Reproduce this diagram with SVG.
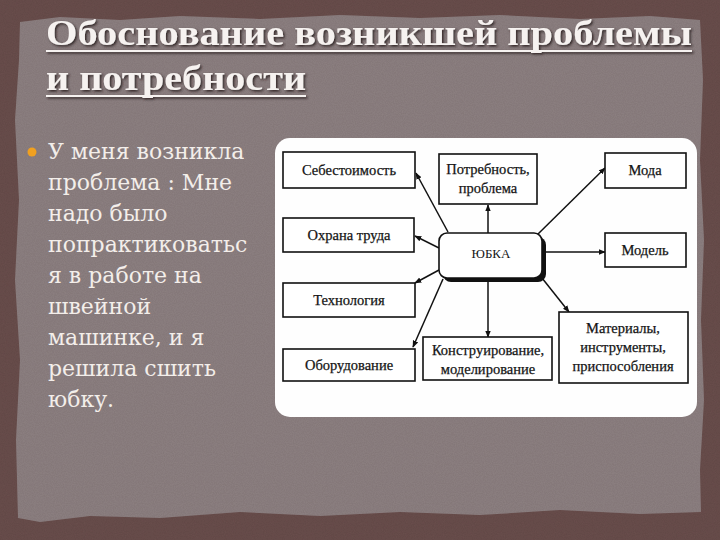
<svg xmlns="http://www.w3.org/2000/svg" width="720" height="540" viewBox="0 0 720 540">
<defs>
<filter id="grain" x="0" y="0" width="100%" height="100%">
<feTurbulence type="fractalNoise" baseFrequency="0.9" numOctaves="2" seed="3" result="n"/>
<feColorMatrix in="n" type="matrix" values="0 0 0 0 0  0 0 0 0 0  0 0 0 0 0  0 0 0 0.18 0" result="a"/>
<feComposite in="a" in2="SourceGraphic" operator="in" result="b"/>
<feMerge><feMergeNode in="SourceGraphic"/><feMergeNode in="b"/></feMerge>
</filter>
<filter id="shadow" x="-5%" y="-20%" width="110%" height="140%">
<feDropShadow dx="1.5" dy="1.5" stdDeviation="1" flood-color="#2a1c1c" flood-opacity="0.9"/>
</filter>
<marker id="ah" viewBox="0 0 10 10" refX="9" refY="5" markerWidth="7" markerHeight="7" orient="auto-start-reverse" markerUnits="userSpaceOnUse">
<path d="M0,1 L10,5 L0,9 Z" fill="#111"/>
</marker>
<style>
.box{fill:#fff;stroke:#111;stroke-width:1.6}
.lbl{font-family:"Liberation Serif","Times New Roman",serif;font-size:14.5px;fill:#151515;text-anchor:middle;stroke:#151515;stroke-width:0.25}
.con{stroke:#111;stroke-width:1.5;fill:none;marker-end:url(#ah)}
.title{font-family:"Liberation Serif","DejaVu Serif",serif;font-weight:bold;font-size:36px;fill:#f6f2f0}
.body{font-family:"DejaVu Serif","Liberation Serif",serif;font-size:22px;fill:#f3eeea}
</style>
</defs>

<rect width="720" height="540" fill="#6b4f4d" filter="url(#grain)"/>
<path d="M20,22 L60,17 L120,20 L180,16 L260,19 L340,15 L420,18 L500,15 L580,19 L650,16 L700,20 L703,80 L700,160 L704,240 L701,320 L704,400 L700,470 L701,512 L640,514 L560,510 L480,515 L400,512 L320,516 L240,512 L160,518 L90,516 L40,522 L18,518 L16,440 L20,360 L15,280 L19,200 L15,120 L19,60 Z" fill="#8e8182" filter="url(#grain)"/>

<g id="title" filter="url(#shadow)">
<text class="title" x="46" y="45" textLength="646" lengthAdjust="spacingAndGlyphs">Обоснование возникшей проблемы</text>
<rect x="46" y="50" width="646" height="2" fill="#f6f2f0"/>
<text class="title" x="46" y="90" textLength="260" lengthAdjust="spacingAndGlyphs">и потребности</text>
<rect x="46" y="95" width="260" height="2" fill="#f6f2f0"/>
</g>

<g id="bullet-text">
<circle cx="32" cy="152" r="4.5" fill="#f0a020"/>
<text class="body" x="48" y="159">У меня возникла</text>
<text class="body" x="48" y="190">проблема : Мне</text>
<text class="body" x="48" y="221">надо было</text>
<text class="body" x="48" y="252">попрактиковатьс</text>
<text class="body" x="48" y="283">я в работе на</text>
<text class="body" x="48" y="314">швейной</text>
<text class="body" x="48" y="345">машинке, и я</text>
<text class="body" x="48" y="376">решила сшить</text>
<text class="body" x="48" y="407">юбку.</text>
</g>

<g id="panel">
<rect x="275" y="138" width="422" height="279" rx="15" fill="#fefefe"/>
</g>

<g id="connectors">
<line class="con" x1="448" y1="232" x2="416" y2="173"/>
<line class="con" x1="439" y1="248" x2="415" y2="236"/>
<line class="con" x1="439" y1="270" x2="415" y2="283"/>
<line class="con" x1="443" y1="279" x2="413" y2="347"/>
<line class="con" x1="488" y1="233" x2="488" y2="205"/>
<line class="con" x1="488" y1="279" x2="488" y2="337"/>
<line class="con" x1="537" y1="235" x2="605" y2="168"/>
<line class="con" x1="546" y1="252" x2="605" y2="252"/>
<line class="con" x1="542" y1="278" x2="569" y2="312"/>
</g>

<g id="node-sebestoimost">
<rect class="box" x="283" y="152" width="132" height="36"/>
<text class="lbl" x="349" y="175">Себестоимость</text>
</g>
<g id="node-okhrana">
<rect class="box" x="283" y="218" width="131" height="34"/>
<text class="lbl" x="349" y="240">Охрана труда</text>
</g>
<g id="node-tekhnologiya">
<rect class="box" x="283" y="283" width="132" height="34"/>
<text class="lbl" x="349" y="305">Технология</text>
</g>
<g id="node-oborudovanie">
<rect class="box" x="283" y="349" width="132" height="32"/>
<text class="lbl" x="349" y="370">Оборудование</text>
</g>
<g id="node-potrebnost">
<rect class="box" x="439" y="154" width="98" height="50"/>
<text class="lbl" x="488" y="174">Потребность,</text>
<text class="lbl" x="488" y="193">проблема</text>
</g>
<g id="node-yubka">
<rect x="443" y="237" width="103" height="45" rx="8" fill="#111"/>
<rect x="439" y="233" width="103" height="45" rx="8" fill="#fff" stroke="#111" stroke-width="1.6"/>
<text class="lbl" x="491" y="258" style="font-size:13px;stroke-width:0">ЮБКА</text>
</g>
<g id="node-konstruirovanie">
<rect class="box" x="423" y="337" width="129" height="43"/>
<text class="lbl" x="488" y="355">Конструирование,</text>
<text class="lbl" x="488" y="374">моделирование</text>
</g>
<g id="node-moda">
<rect class="box" x="605" y="153" width="81" height="35"/>
<text class="lbl" x="645" y="175">Мода</text>
</g>
<g id="node-model">
<rect class="box" x="605" y="233" width="81" height="34"/>
<text class="lbl" x="645" y="255">Модель</text>
</g>
<g id="node-materialy">
<rect class="box" x="559" y="312" width="129" height="71"/>
<text class="lbl" x="623" y="333">Материалы,</text>
<text class="lbl" x="623" y="352">инструменты,</text>
<text class="lbl" x="623" y="371">приспособления</text>
</g>
</svg>
